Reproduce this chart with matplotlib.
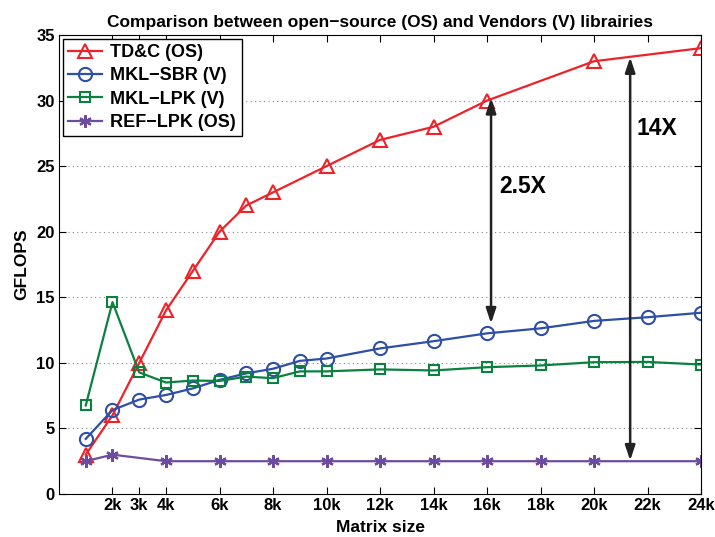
import matplotlib
matplotlib.use("Agg")
import matplotlib.pyplot as plt

plt.rcParams['font.family'] = ['Liberation Sans', 'DejaVu Sans']
plt.rcParams['font.weight'] = 'bold'

# Data (matrix size in k, GFLOPS)
tdc_x = [1, 2, 3, 4, 5, 6, 7, 8, 10, 12, 14, 16, 20, 24]
tdc_y = [3.0, 6.0, 10.0, 14.0, 17.0, 20.0, 22.0, 23.0, 25.0, 27.0, 28.0, 30.0, 33.0, 34.0]

sbr_x = [1, 2, 3, 4, 5, 6, 7, 8, 9, 10, 12, 14, 16, 18, 20, 22, 24]
sbr_y = [4.2, 6.4, 7.2, 7.55, 8.05, 8.7, 9.2, 9.55, 10.15, 10.33, 11.1, 11.65, 12.25, 12.63, 13.2, 13.48, 13.82]

lpk_x = [1, 2, 3, 4, 5, 6, 7, 8, 9, 10, 12, 14, 16, 18, 20, 22, 24]
lpk_y = [6.75, 14.63, 9.27, 8.5, 8.65, 8.62, 8.95, 8.83, 9.35, 9.35, 9.5, 9.42, 9.67, 9.8, 10.05, 10.07, 9.87]

ref_x = [1, 2, 4, 6, 8, 10, 12, 14, 16, 18, 20, 24]
ref_y = [2.5, 3.0, 2.5, 2.5, 2.5, 2.5, 2.5, 2.5, 2.5, 2.5, 2.5, 2.5]

xticks = [2, 3, 4, 6, 8, 10, 12, 14, 16, 18, 20, 22, 24]
xticklabels = ['2k', '3k', '4k', '6k', '8k', '10k', '12k', '14k', '16k', '18k', '20k', '22k', '24k']
yticks = [0, 5, 10, 15, 20, 25, 30, 35]

c_red = '#ee2229'
c_blue = '#2e4fa8'
c_green = '#0b8140'
c_purple = '#6d4c9f'

fig = plt.figure(figsize=(7.15, 5.37), dpi=100)
ax = fig.add_axes([0.0825, 0.0801, 0.898, 0.8547])

lw = 1.6
ax.plot(tdc_x, tdc_y, color=c_red, lw=lw, marker='^', ms=10, mfc='none', mew=1.5, label='TD&C (OS)')
ax.plot(sbr_x, sbr_y, color=c_blue, lw=lw, marker='o', ms=9.5, mfc='none', mew=1.5, label='MKL−SBR (V)')
ax.plot(lpk_x, lpk_y, color=c_green, lw=lw, marker='s', ms=7.5, mfc='none', mew=1.5, label='MKL−LPK (V)')
ax.plot(ref_x, ref_y, color=c_purple, lw=lw, marker=(6, 2, 0), ms=9, mfc=c_purple, mew=1.6, label='REF−LPK (OS)')

ax.set_xlim(0, 24)
ax.set_ylim(0, 35)
ax.set_xticks(xticks)
ax.set_xticklabels(xticklabels)
ax.set_yticks(yticks)
ax.tick_params(direction='in', top=True, right=True, labelsize=12, length=5, width=0.8, pad=3)
for lab in ax.get_xticklabels() + ax.get_yticklabels():
    lab.set_fontweight('bold')
ax.yaxis.grid(True, linestyle=(0, (1, 3)), color='#888888', lw=0.8)
ax.set_axisbelow(True)

ax.set_xlabel('Matrix size', fontsize=12.5, fontweight='bold', labelpad=5)
ax.set_ylabel('GFLOPS', fontsize=12.5, fontweight='bold', labelpad=5)
ax.set_title('Comparison between open−source (OS) and Vendors (V) librairies',
             fontsize=12.5, fontweight='bold', pad=6)

leg = ax.legend(loc='upper left', fontsize=13, frameon=True, fancybox=False,
                edgecolor='black', framealpha=1, borderaxespad=0.2,
                handlelength=1.9, handletextpad=0.45, labelspacing=0.35, borderpad=0.3)
leg.get_frame().set_linewidth(1.0)
for t in leg.get_texts():
    t.set_fontweight('bold')

arrow_kw = dict(arrowstyle='<|-|>,head_length=0.9,head_width=0.3', color='#222222', lw=1.8,
                shrinkA=0, shrinkB=0)
ax.annotate('', xy=(16.15, 30.2), xytext=(16.15, 13.0), arrowprops=arrow_kw)
ax.annotate('', xy=(21.35, 33.3), xytext=(21.35, 2.55), arrowprops=arrow_kw)

ax.text(17.33, 23.44, '2.5X', fontsize=16.5, fontweight='bold', ha='center', va='center')
ax.text(22.36, 27.9, '14X', fontsize=16.5, fontweight='bold', ha='center', va='center')

fig.savefig('out.png', dpi=100)
